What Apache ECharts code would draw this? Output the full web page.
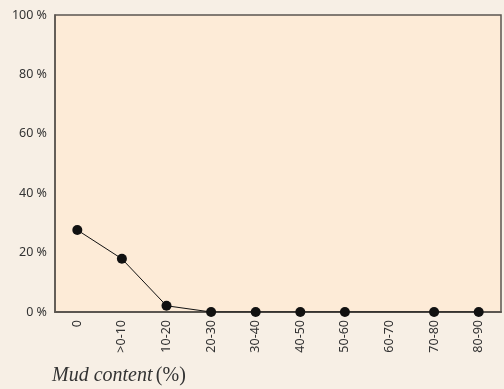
<!DOCTYPE html>
<html>
<head>
<meta charset="utf-8">
<script src="https://cdn.jsdelivr.net/npm/echarts@6/dist/echarts.min.js"></script>
<style>
  html, body { margin: 0; padding: 0; background: #f7efe5; }
  #chart { width: 504px; height: 389px; }
</style>
</head>
<body>
<div id="chart"></div>
<script>
// mud content classes
var categories = ['0', '>0-10', '10-20', '20-30', '30-40', '40-50', '50-60', '60-70', '70-80', '80-90'];
// share of samples (%), 60-70 has no point
var values = [27.6, 17.9, 2.1, 0, 0, 0, 0, null, 0, 0];
var yTicks = [0, 20, 40, 60, 80, 100];

var myChart = echarts.init(document.getElementById('chart'));
myChart.setOption({
  backgroundColor: '#f7efe5',
  animation: false,
  grid: {
    left: 55, right: 3, top: 15, bottom: 77,
    show: true,
    backgroundColor: '#fdebd7',
    borderColor: '#5b5650',
    borderWidth: 1.5
  },
  graphic: [{
    type: 'text',
    left: 52,
    top: 366,
    style: {
      text: '{i|Mud content} {n|(%)}',
      rich: {
        i: { fontFamily: 'Liberation Serif', fontStyle: 'italic', fontSize: 20, fill: '#333' },
        n: { fontFamily: 'Liberation Serif', fontSize: 20, fill: '#333' }
      }
    }
  }],
  xAxis: {
    type: 'category',
    data: categories,
    boundaryGap: true,
    axisLine: { lineStyle: { color: '#5b5650', width: 2 } },
    axisTick: { alignWithLabel: true, length: 4, lineStyle: { color: '#5b5650' } },
    axisLabel: {
      rotate: 90,
      margin: 8,
      fontFamily: 'Noto Sans',
      fontSize: 12.5,
      color: '#333'
    }
  },
  yAxis: {
    type: 'value',
    min: 0,
    max: 100,
    interval: 20,
    splitLine: { show: false },
    axisLine: { show: true, lineStyle: { color: '#5b5650', width: 1.5 } },
    axisTick: { show: false },
    axisLabel: {
      margin: 8,
      fontFamily: 'Noto Sans',
      fontSize: 12.5,
      color: '#333',
      formatter: function (v) { return yTicks.indexOf(v) >= 0 ? v + ' %' : ''; }
    }
  },
  series: [{
    type: 'line',
    data: values,
    connectNulls: true,
    symbol: 'circle',
    symbolSize: 10,
    itemStyle: { color: '#111' },
    lineStyle: { color: '#111', width: 1 }
  }]
});
</script>
</body>
</html>
